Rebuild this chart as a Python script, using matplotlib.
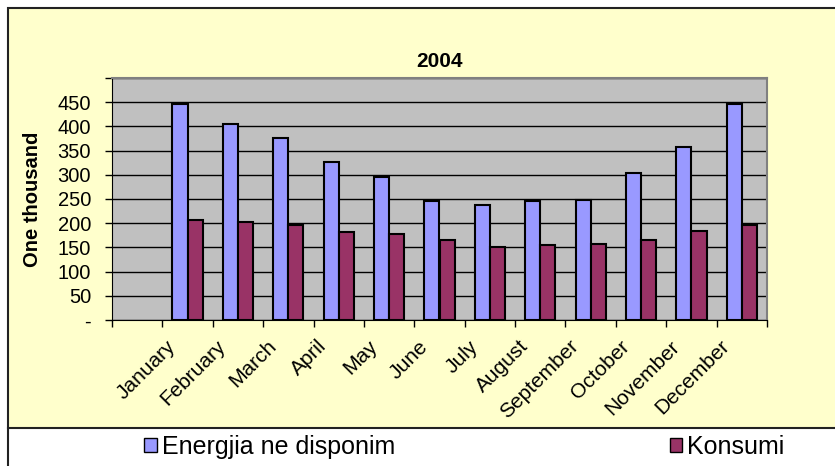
import numpy as np
import matplotlib
matplotlib.use('Agg')
import matplotlib.pyplot as plt
from matplotlib.patches import Rectangle, Patch
from matplotlib.lines import Line2D

plt.rcParams['font.family'] = ['Liberation Sans', 'DejaVu Sans']

months = ['January', 'February', 'March', 'April', 'May', 'June', 'July',
          'August', 'September', 'October', 'November', 'December']
energjia = [447, 405, 376, 326, 296, 245, 237, 245, 248, 304, 357, 447]  # one thousand
konsumi = [206, 203, 196, 181, 177, 166, 151, 155, 158, 166, 184, 196]
y_ticks = [0, 50, 100, 150, 200, 250, 300, 350, 400, 450, 500]
y_labels = ['-', '50', '100', '150', '200', '250', '300', '350', '400', '450', '']

fig = plt.figure(figsize=(8.35, 4.66), dpi=100)
fig.patch.set_facecolor('white')

# yellow chart area with frame
W, H = 835, 466
fig.patches.append(Rectangle((8 / W, 1 - 428 / H), 1.0, (428 - 8) / H,
                             transform=fig.transFigure, facecolor='#FFFFCC',
                             edgecolor='#222222', lw=1.5, zorder=-5))
fig.lines.append(Line2D([8 / W, 8 / W], [0, 1 - 428 / H], transform=fig.transFigure,
                        color='#222222', lw=1.5, zorder=-5))

ax = fig.add_axes([112 / W, 1 - 320 / H, (767 - 112) / W, (320 - 78) / H])
ax.set_zorder(2)
ax.set_facecolor('#C0C0C0')

x = np.arange(1, 13)
bw = 0.3
ax.bar(x - bw / 2, energjia, bw, color='#9999FF', edgecolor='black', lw=1.5, zorder=3)
ax.bar(x + bw / 2, konsumi, bw, color='#993366', edgecolor='black', lw=1.5, zorder=3)

ax.set_xlim(-0.5, 12.5)
ax.set_ylim(0, 500)
ax.set_yticks(y_ticks)
ax.set_yticklabels(y_labels, fontsize=14.5)
ax.yaxis.grid(True, color='black', lw=1)
ax.set_axisbelow(True)

# tick marks on category edges, labels shifted like the original
ax.set_xticks(np.arange(-0.5, 13, 1))
ax.set_xticklabels([])
ax.set_xticks(x - 0.43, minor=True)
ax.set_xticklabels(months, minor=True, rotation=45, ha='right', va='top',
                   rotation_mode='anchor', fontsize=15)
ax.tick_params(axis='x', which='minor', length=0, pad=12)
ax.tick_params(axis='both', which='major', length=5, width=1, direction='out')
ax.tick_params(axis='y', which='major', pad=10)

for s in ['top', 'right']:
    ax.spines[s].set_color('#808080')
    ax.spines[s].set_linewidth(1.5)
for s in ['left', 'bottom']:
    ax.spines[s].set_color('black')

ax.set_title('2004', fontsize=15, fontweight='bold', pad=8)
ax.set_ylabel('One thousand', fontsize=14.5, fontweight='bold', labelpad=11)

handles = [Patch(facecolor='#9999FF', edgecolor='black', label='Energjia ne disponim'),
           Patch(facecolor='#993366', edgecolor='black', label='Konsumi')]
fig.legend(handles=handles, loc='center', bbox_to_anchor=(0.556, 1 - 447 / H), ncol=2,
           frameon=False, fontsize=18, handlelength=0.5, handleheight=0.5,
           handletextpad=0.2, columnspacing=11)

fig.savefig('out.png', dpi=100)
